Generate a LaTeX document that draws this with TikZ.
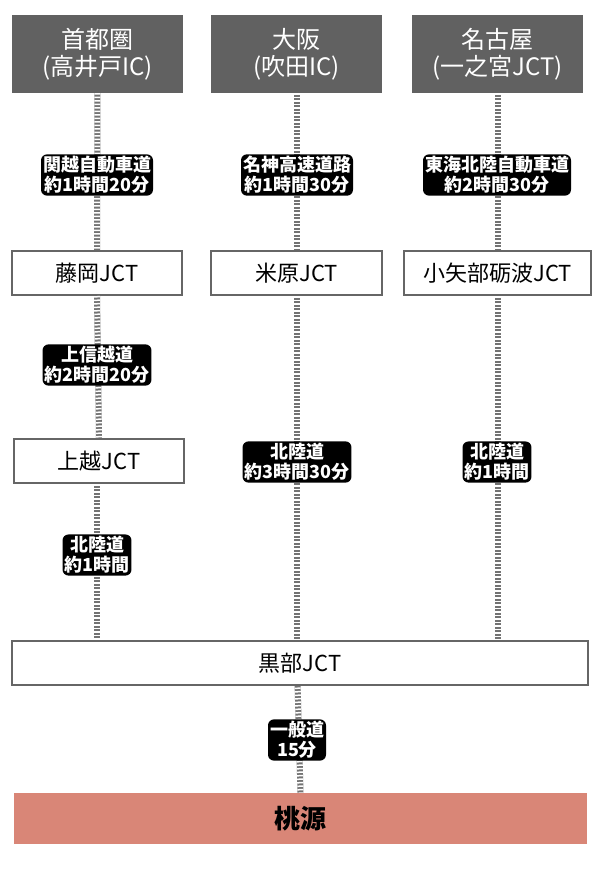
\documentclass[tikz,border=0pt]{standalone}
\usepackage{fontspec}
\setmainfont{Noto Sans CJK JP}
\definecolor{peach}{RGB}{217,134,119}
\begin{document}
\begin{tikzpicture}[x=1pt,y=-1pt,
 head/.style={fill=black!62,text=white,minimum width=171pt,minimum height=78pt,inner sep=0pt,align=center,font=\fontsize{24}{27}\selectfont},
 jct/.style={draw=black!60,line width=2pt,fill=white,minimum height=44pt,inner sep=0pt,font=\fontsize{22}{24}\selectfont},
 lab/.style={fill=black,text=white,rounded corners=6pt,inner sep=2pt,align=center,font=\bfseries\fontsize{18}{20}\selectfont},
 road/.style={line width=6pt,draw=black!55},
 roadw/.style={line width=6pt,draw=white,dash pattern=on 1.5pt off 2pt}]
\useasboundingbox (0,0) rectangle (600,873);
\node[head] (h1) at (97.5,54) {首都圏\\(高井戸IC)};
\node[head] (h2) at (296.5,54) {大阪\\(吹田IC)};
\node[head] (h3) at (497.5,54) {名古屋\\(一之宮JCT)};
\node[jct,minimum width=170pt] (f) at (97,273) {藤岡JCT};
\node[jct,minimum width=171pt] (m) at (296.5,273) {米原JCT};
\node[jct,minimum width=187pt] (o) at (497.5,273) {小矢部砺波JCT};
\node[jct,minimum width=170pt] (j) at (99,461) {上越JCT};
\node[draw=none,minimum width=576pt,minimum height=44pt] (k) at (300,663) {};
\node[fill=peach,minimum width=573pt,minimum height=51pt,inner sep=0pt,font=\bfseries\fontsize{26}{28}\selectfont] (t) at (300.5,818.5) {桃源};
\coordinate (kf) at (f.south |- k.north);
\coordinate (km) at (m.south |- k.north);
\coordinate (ko) at (o.south |- k.north);
\coordinate (kj) at (f.south |- j.south);
\coordinate (tk) at (297,663);
\coordinate (tt) at (t.north);
\foreach \a/\b in {h1.south/f.north, f.south/j.north, kj/kf, h2.south/m.north, m.south/km, h3.south/o.north, o.south/ko, tk/tt}{
 \draw[road] (\a) -- (\b);
 \draw[roadw] (\a) -- (\b);}
\node[jct,minimum width=576pt] (kb) at (300,663) {黒部JCT};
\node[lab] (l1) at (97,175) {関越自動車道\\約1時間20分};
\node[lab] (l2) at (297,175) {名神高速道路\\約1時間30分};
\node[lab] (l3) at (497,175) {東海北陸自動車道\\約2時間30分};
\node[lab] (l4) at (97,365) {上信越道\\約2時間20分};
\node[lab] (l5) at (297,462) {北陸道\\約3時間30分};
\node[lab] (l6) at (497,462) {北陸道\\約1時間};
\node[lab] (l7) at (97,555) {北陸道\\約1時間};
\node[lab] (l8) at (297,740) {一般道\\15分};
\end{tikzpicture}
\end{document}
